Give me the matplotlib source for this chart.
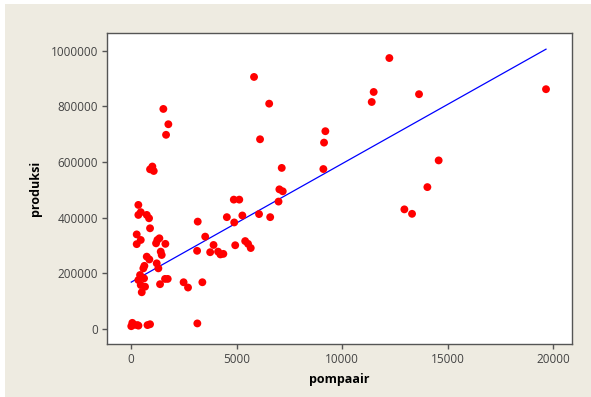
import numpy as np
import matplotlib
matplotlib.use("Agg")
import matplotlib.pyplot as plt
from matplotlib.patches import Rectangle

# pompaair vs produksi
pompaair = [
    10, 60, 150, 300, 350, 780, 900,
    346, 346, 460, 744, 853, 900, 268, 460, 268, 1248, 1343, 1627, 1185,
    1406, 1453, 744, 868, 632, 1217, 1295, 583, 427, 616, 346, 459, 663,
    507, 1611, 1738, 1374, 2490, 2700, 1531, 1768, 1659, 1010, 900, 1075,
    3160, 3130, 3380, 3515, 3910, 3750, 4125, 4235, 4375, 4540, 4890, 4870,
    5130, 4937, 5275, 5410, 5545, 5673, 6066, 6595, 6990, 7030, 7190, 7142,
    6114, 6547, 5829, 3142,
    9115, 9147, 9210, 11407, 11500, 12243, 13649, 19668, 14580, 14045,
    12955, 13318,
]
produksi = [
    10000, 22000, 15000, 14000, 12000, 14000, 17000,
    446000, 410000, 420000, 410000, 398000, 362000, 340000, 320000, 305000,
    320000, 326000, 306000, 308000, 278000, 266000, 260000, 250000, 227000,
    236000, 218000, 218000, 194000, 182000, 176000, 158000, 152000, 132000,
    180000, 180000, 161000, 168000, 149000, 791000, 736000, 698000, 584000,
    574000, 568000,
    386000, 281000, 168000, 332000, 302000, 276000, 278000, 268000, 270000,
    402000, 383000, 465000, 465000, 301000, 408000, 316000, 306000, 291000,
    413000, 402000, 458000, 502000, 495000, 579000, 682000, 810000, 906000,
    20000,
    575000, 670000, 711000, 816000, 852000, 974000, 844000, 862000, 606000,
    510000, 430000, 414000,
]

# fitted line as drawn in the reference
fit_intercept = 168000
fit_slope = 42.6

x_ticks = [0, 5000, 10000, 15000, 20000]
y_ticks = [0, 200000, 400000, 600000, 800000, 1000000]

plt.rcParams["font.family"] = ["Open Sans", "DejaVu Sans"]

fig = plt.figure(figsize=(5.91, 3.97), dpi=100)
fig.patch.set_facecolor("white")
fig.patches.append(Rectangle((5 / 591, 0), 1, 1 - 4 / 397, transform=fig.transFigure,
                             facecolor="#EEEBE1", edgecolor="none", zorder=-1))

ax = fig.add_axes([107 / 591, 1 - 344 / 397, 465 / 591, 311 / 397])
ax.set_facecolor("white")

ax.scatter(pompaair, produksi, s=32, color="#FF0000", edgecolors="none", zorder=3)

xs = np.array([min(pompaair), max(pompaair)])
ax.plot(xs, fit_intercept + fit_slope * xs, color="#0000FF", linewidth=0.9, zorder=2)

ax.set_xlim(-1140, 20900)
ax.set_ylim(-54000, 1064000)
ax.set_xticks(x_ticks)
ax.set_xticklabels([str(t) for t in x_ticks])
ax.set_yticks(y_ticks)
ax.set_yticklabels([str(t) for t in y_ticks])

for s in ax.spines.values():
    s.set_color("#555555")
    s.set_linewidth(1.0)
ax.tick_params(direction="out", length=3.5, width=1, color="#555555",
               labelcolor="#444444", labelsize=8.5, pad=3)

ax.set_xlabel("pompaair", fontsize=9, fontweight="bold", color="black", labelpad=5)
ax.set_ylabel("produksi", fontsize=9, fontweight="bold", color="black", labelpad=6)

fig.savefig("out.png", dpi=100, facecolor=fig.get_facecolor())
